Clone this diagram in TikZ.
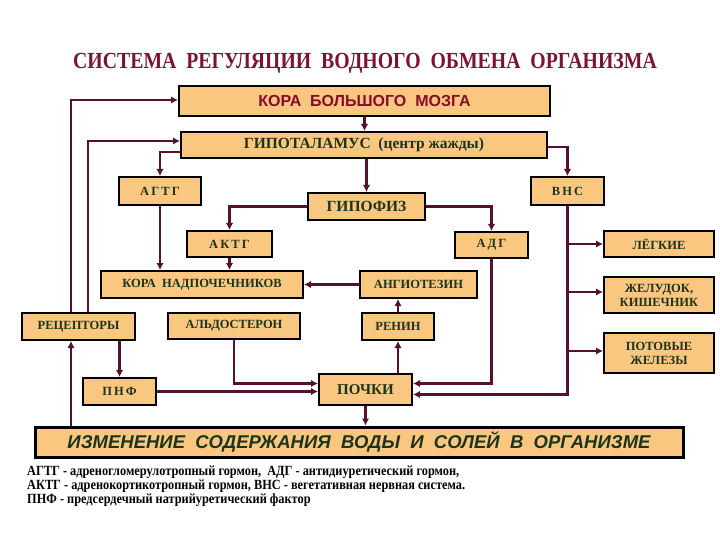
\documentclass[tikz,border=0pt]{standalone}
\usepackage{fontspec}
\setmainfont{Liberation Serif}
\newfontfamily\sansbold{Liberation Sans}
\newfontfamily\legendfont[FakeStretch=0.88]{Liberation Serif}
\newfontfamily\titlefont[FakeStretch=0.86]{Liberation Serif}
\usetikzlibrary{arrows.meta,positioning,calc}
\definecolor{boxfill}{RGB}{250,199,128}
\definecolor{linkcol}{RGB}{88,16,48}
\definecolor{boxtext}{RGB}{28,52,28}
\definecolor{titlered}{RGB}{125,18,50}
\definecolor{cortred}{RGB}{135,12,40}

\tikzset{
  blk/.style={shape=rectangle,draw=black,line width=2pt,fill=boxfill,inner sep=0pt,
    text=boxtext,align=center,font=\bfseries\fontsize{12.5}{14}\selectfont},
  sz/.style 2 args={minimum width=#1pt,minimum height=#2pt},
  lnk/.style={draw=linkcol,line width=2.7pt,-{Latex[length=7pt,width=7.5pt]}},
  ttl/.style={text=titlered,font=\titlefont\bfseries\fontsize{23}{26}\selectfont},
  lgd/.style={anchor=west,inner sep=0pt,font=\legendfont\bfseries\fontsize{14}{16}\selectfont}
}

\begin{document}
\begin{tikzpicture}[x=1pt,y=-1pt]
  \useasboundingbox (0,0) rectangle (720,540);
  % title
  \path (365,63) node [ttl] (title) {СИСТЕМА\ \ РЕГУЛЯЦИИ\ \ ВОДНОГО\ \ ОБМЕНА\ \ ОРГАНИЗМА};
  % boxes
  \path (364.5,101) node [blk,sz={371}{30},text=cortred,font=\sansbold\bfseries\fontsize{16}{18}\selectfont] (kbm) {КОРА\ \ БОЛЬШОГО\ \ МОЗГА}
  (364,145) node [blk,sz={366}{26},font=\bfseries\fontsize{15.5}{17}\selectfont] (hyp) {ГИПОТАЛАМУС\ \ (центр жажды)}
  (160,191) node [blk,sz={82}{28}] (agtg) {А\,Г\,Т\,Г}
  (567.5,191) node [blk,sz={73}{28}] (vns) {В\,Н\,С}
  (366.5,206.5) node [blk,sz={117}{27},font=\bfseries\fontsize{15.5}{17}\selectfont] (gpf) {ГИПОФИЗ}
  (229.5,244) node [blk,sz={85}{26}] (aktg) {А\,К\,Т\,Г}
  (491.5,245) node [blk,sz={73}{26}] (adg) {А\,Д\,Г}
  (659,244) node [blk,sz={110}{26}] (lung) {ЛЁГКИЕ}
  (202,284.5) node [blk,sz={202}{27}] (adren) {КОРА\ \ НАДПОЧЕЧНИКОВ}
  (418.5,284.5) node [blk,sz={117}{27}] (angio) {АНГИОТЕЗИН}
  (659,295) node [blk,sz={110}{36}] (gut) {ЖЕЛУДОК,\\КИШЕЧНИК}
  (78.5,326.5) node [blk,sz={113}{27}] (recp) {РЕЦЕПТОРЫ}
  (234,326) node [blk,sz={132}{26}] (aldo) {АЛЬДОСТЕРОН}
  (398,326.5) node [blk,sz={72}{27}] (renin) {РЕНИН}
  (659,353) node [blk,sz={110}{40}] (sweat) {ПОТОВЫЕ\\ЖЕЛЕЗЫ}
  (119.5,391.5) node [blk,sz={73}{27}] (pnf) {П\,Н\,Ф}
  (365.5,389.5) node [blk,sz={93}{31},font=\bfseries\fontsize{15}{17}\selectfont] (kidney) {ПОЧКИ}
  (359,442) node [blk,sz={648}{30},line width=3pt,
     font=\sansbold\bfseries\itshape\fontsize{18.5}{20}\selectfont] (change) {ИЗМЕНЕНИЕ\ \ СОДЕРЖАНИЯ\ \ ВОДЫ\ \ И\ \ СОЛЕЙ\ \ В\ \ ОРГАНИЗМЕ};
  % legend
  \path (27,472) node [lgd] (lg1) {АГТГ - адреногломерулотропный гормон,\ \ АДГ - антидиуретический гормон,}
  (27,486) node [lgd] (lg2) {АКТГ - адренокортикотропный гормон, ВНС - вегетативная нервная система.}
  (27,500) node [lgd] (lg3) {ПНФ - предсердечный натрийуретический фактор};
  % connectors
  \draw [lnk] (kbm.south) -- (kbm.south |- hyp.north);
  \draw [lnk] ([xshift=-7.5pt]recp.north) |- ([yshift=1pt]kbm.west);
  \draw [lnk] ([xshift=9.5pt]recp.north) |- ([yshift=4pt]hyp.west);
  \draw [lnk] ([xshift=-7.5pt]recp.south |- change.north) -- ([xshift=-7.5pt]recp.south);
  \draw [lnk] (recp.south -| pnf.north) -- (pnf.north);
  \draw [lnk] (pnf.east) -- (pnf.east -| kidney.west);
  \draw [lnk] (aldo.south) |- ([yshift=6pt]kidney.west);
  \draw [lnk] ([yshift=-7pt]hyp.west) -| (agtg.north);
  \draw [lnk] (gpf.north |- hyp.south) -- (gpf.north);
  \draw [lnk] ([yshift=-2pt]hyp.east) -| (vns.north);
  \draw [lnk] (agtg.south) -- (agtg.south |- adren.north);
  \draw [lnk] (gpf.west) -| (aktg.north);
  \draw [lnk] (aktg.south) -- (aktg.south |- adren.north);
  \draw [lnk] (gpf.east) -| (adg.north);
  \draw [lnk] (adg.south) |- ([yshift=6pt]kidney.east);
  \draw [lnk] (vns.south) |- ([yshift=-5pt]kidney.east);
  \draw [lnk] (vns.south |- lung.west) -- (lung.west);
  \draw [lnk] ([yshift=3pt]vns.south |- gut.west) -- ([yshift=3pt]gut.west);
  \draw [lnk] ([yshift=2pt]vns.south |- sweat.west) -- ([yshift=2pt]sweat.west);
  \draw [lnk] (angio.west) -- (angio.west -| adren.east);
  \draw [lnk] (renin.north) -- (renin.north |- angio.south);
  \draw [lnk] (kidney.north -| renin.south) -- (renin.south);
  \draw [lnk] (kidney.south) -- (kidney.south |- change.north);
\end{tikzpicture}
\end{document}
